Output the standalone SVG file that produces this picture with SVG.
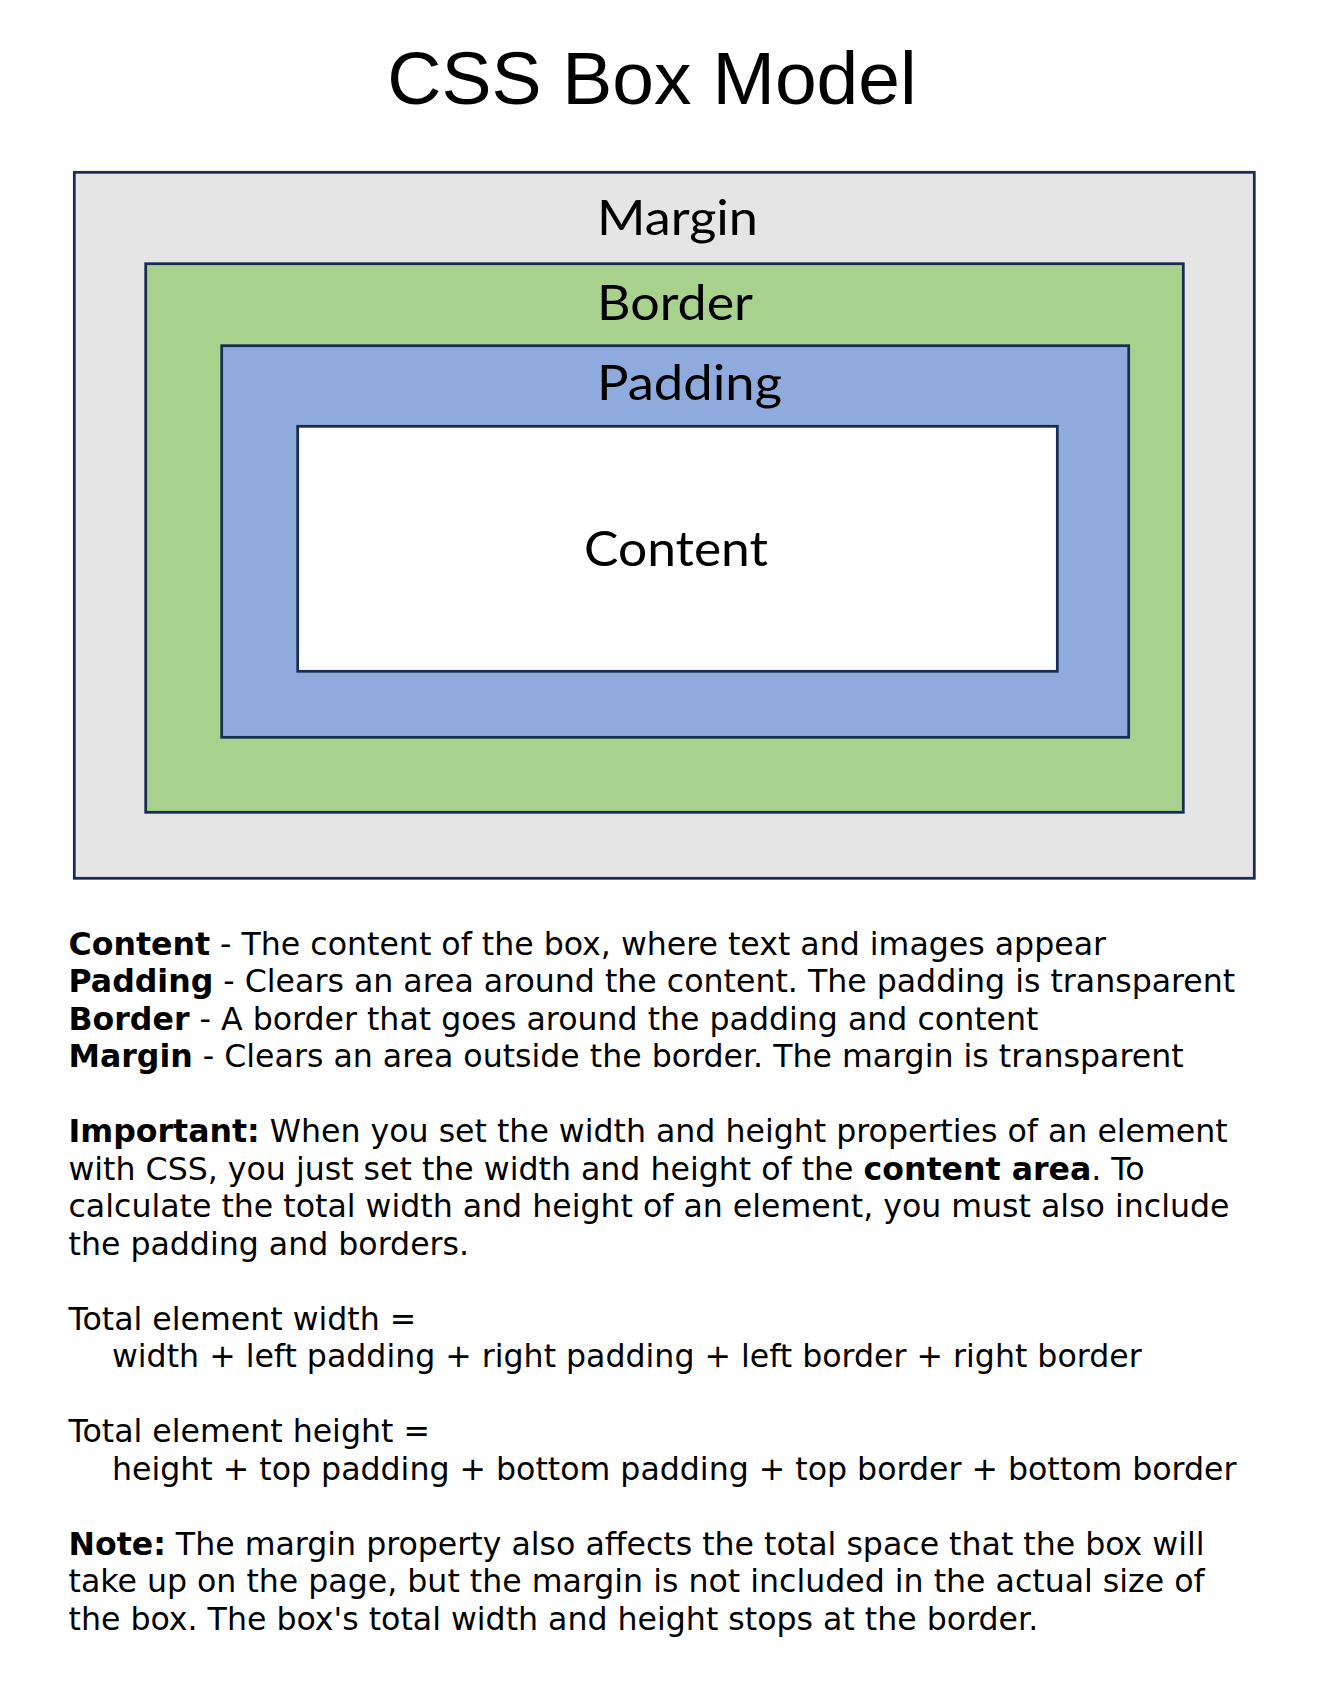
<svg xmlns="http://www.w3.org/2000/svg" width="1336" height="1685" viewBox="0 0 1336 1685">
<style>
.box{stroke:#172c51;stroke-width:2.75}
.lbl{font-family:Lato,"Open Sans","Noto Sans",sans-serif;font-size:49px;fill:#000}
.title{font-family:"Liberation Sans",Arial,sans-serif;font-size:75px;fill:#000}
.body{font-family:"DejaVu Sans",Verdana,sans-serif;font-size:31.6px;fill:#000}
.b{font-weight:bold}
</style>
<rect width="1336" height="1685" fill="#ffffff"/>
<text id="title" class="title" x="652" y="104" text-anchor="middle">CSS Box Model</text>
<g id="margin">
<rect class="box" x="74.3" y="172.3" width="1180" height="706" fill="#e5e5e5"/>
<text class="lbl" x="597" y="235" textLength="161" lengthAdjust="spacingAndGlyphs">Margin</text>
</g>
<g id="border">
<rect class="box" x="145.7" y="263.7" width="1037.6" height="548.6" fill="#a9d18e"/>
<text class="lbl" x="597" y="320" textLength="156" lengthAdjust="spacingAndGlyphs">Border</text>
</g>
<g id="padding">
<rect class="box" x="221.7" y="345.7" width="907" height="391.6" fill="#8faadc"/>
<text class="lbl" x="597" y="400" textLength="185" lengthAdjust="spacingAndGlyphs">Padding</text>
</g>
<g id="content">
<rect class="box" x="297.7" y="426.3" width="759.6" height="245" fill="#ffffff"/>
<text class="lbl" x="584" y="566" textLength="184" lengthAdjust="spacingAndGlyphs">Content</text>
</g>
<g id="description" class="body">
<text x="68.5" y="954.7"><tspan class="b">Content</tspan> - The content of the box, where text and images appear</text>
<text x="68.5" y="992.2"><tspan class="b">Padding</tspan> - Clears an area around the content. The padding is transparent</text>
<text x="68.5" y="1029.7"><tspan class="b">Border</tspan> - A border that goes around the padding and content</text>
<text x="68.5" y="1067.2"><tspan class="b">Margin</tspan> - Clears an area outside the border. The margin is transparent</text>
<text x="68.5" y="1142.2"><tspan class="b">Important:</tspan> When you set the width and height properties of an element</text>
<text x="68.5" y="1179.7">with CSS, you just set the width and height of the <tspan class="b">content area</tspan>. To</text>
<text x="68.5" y="1217.2">calculate the total width and height of an element, you must also include</text>
<text x="68.5" y="1254.7">the padding and borders.</text>
<text x="68.5" y="1329.7">Total element width =</text>
<text x="112" y="1367.2">width + left padding + right padding + left border + right border</text>
<text x="68.5" y="1442.2">Total element height =</text>
<text x="112" y="1479.7">height + top padding + bottom padding + top border + bottom border</text>
<text x="68.5" y="1554.7"><tspan class="b">Note:</tspan> The margin property also affects the total space that the box will</text>
<text x="68.5" y="1592.2">take up on the page, but the margin is not included in the actual size of</text>
<text x="68.5" y="1629.7">the box. The box's total width and height stops at the border.</text>
</g>
</svg>
